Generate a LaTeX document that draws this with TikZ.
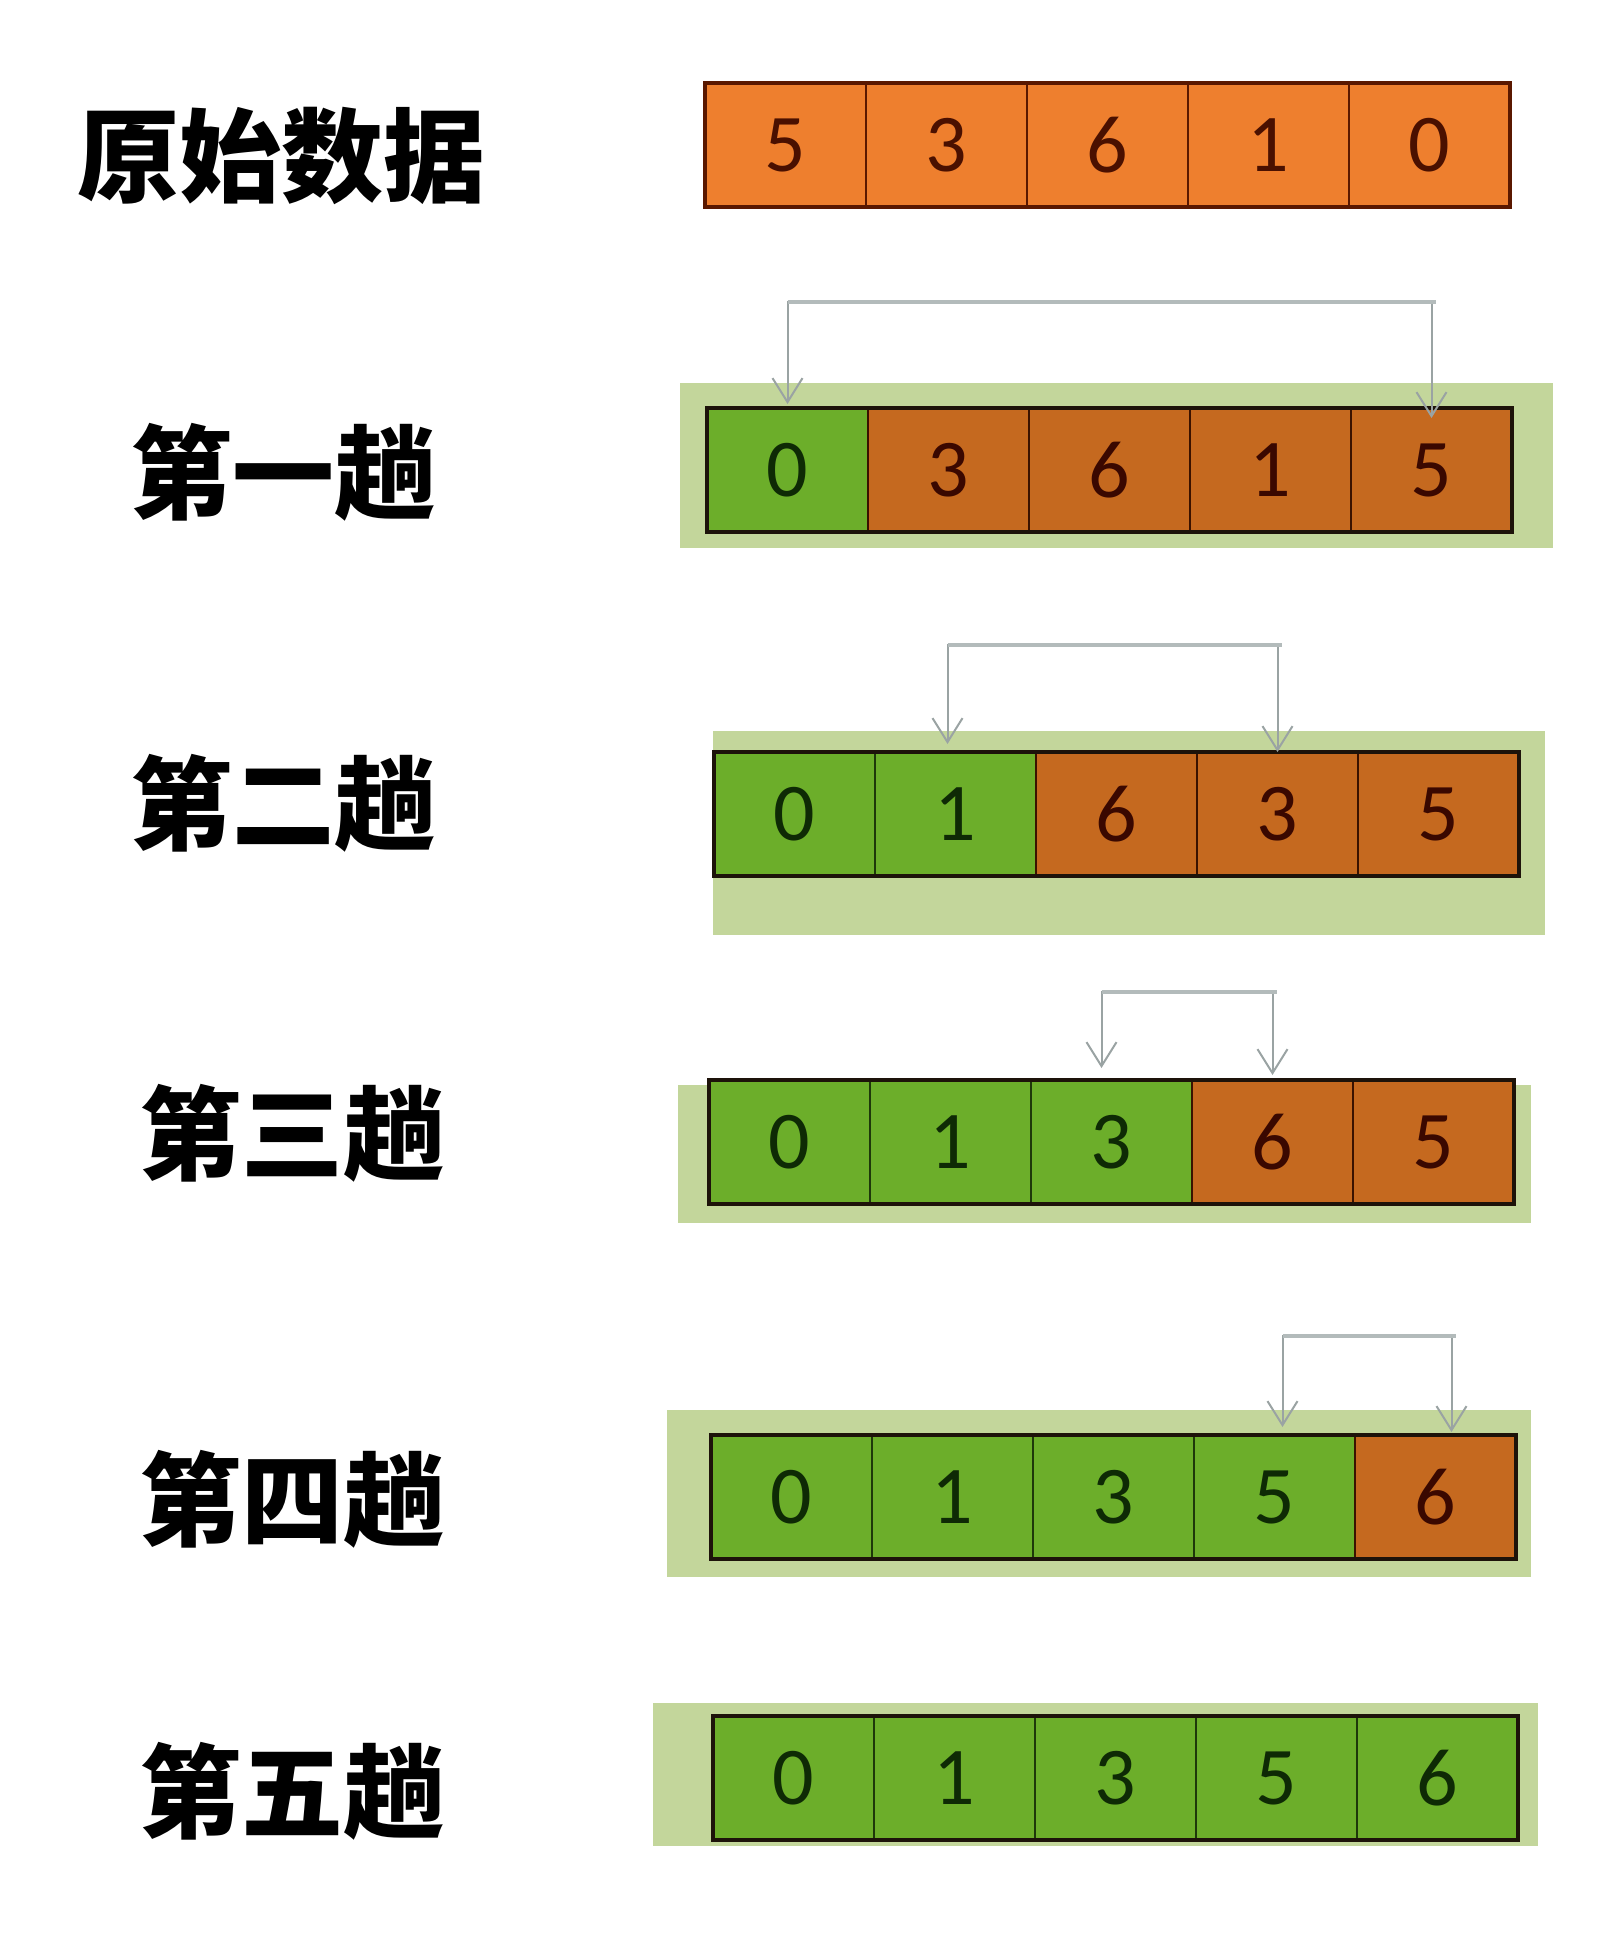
\documentclass[tikz,border=0pt]{standalone}
\usepackage{fontspec}
\newfontfamily\cjk{Noto Sans CJK SC}
\newfontfamily\digitfont{Carlito}
\usetikzlibrary{arrows.meta}
\definecolor{orangeA}{HTML}{EE7F2E}
\definecolor{orangeB}{HTML}{C5691F}
\definecolor{greenC}{HTML}{6CAE2A}
\definecolor{panelG}{HTML}{C3D69B}
\definecolor{borderA}{HTML}{5A1800}
\definecolor{borderO}{HTML}{3A1200}
\definecolor{borderG}{HTML}{1E380A}
\definecolor{txtA}{HTML}{4A1000}
\definecolor{txtO}{HTML}{3A0800}
\definecolor{txtG}{HTML}{0E2A05}
\definecolor{arrowC}{HTML}{9AA3A3}
\definecolor{barC}{HTML}{B3BBBB}
\newcommand\mkcellrow[5]{%
  \foreach \v [count=\i] in {#5} {%
    \ifnum\i>#4\relax
      \node[cellO] (r#1c\i) at ({#2+80.5+161*(\i-1)},#3) {\v};
    \else
      \node[cellG] (r#1c\i) at ({#2+80.5+161*(\i-1)},#3) {\v};
    \fi}}
\begin{document}
\begin{tikzpicture}[x=0.5pt,y=-0.5pt,
  cellbase/.style={draw, line width=1pt, minimum width=80.5pt, minimum height=62pt,
    inner sep=0pt, outer sep=0pt, font=\digitfont\fontsize{41}{41}\selectfont},
  cellA/.style={cellbase, fill=orangeA, draw=borderA, text=txtA},
  cellO/.style={cellbase, fill=orangeB, draw=borderO, text=txtO},
  cellG/.style={cellbase, fill=greenC, draw=borderG, text=txtG},
  rowframe/.style={draw=black!85!brown, line width=1.8pt},
  panel/.style={fill=panelG},
  lbl/.style={font=\cjk\bfseries\fontsize{51}{51}\selectfont, inner sep=0pt},
  swap/.style={draw=arrowC, line width=1pt,
    {Straight Barb[length=12pt,width=15pt,line width=1pt]}-{Straight Barb[length=12pt,width=15pt,line width=1pt]}},
  bar/.style={draw=barC, line width=2pt}]
\fill[white] (0,0) rectangle (1614,1954);
\useasboundingbox (0,0) rectangle (1614,1954);

% labels
\node[lbl] (lab0) at (281,156) {原始数据};
\node[lbl] (lab1) at (283,472) {第一趟};
\node[lbl] (lab2) at (283,803) {第二趟};
\node[lbl] (lab3) at (292,1133) {第三趟};
\node[lbl] (lab4) at (292,1499) {第四趟};
\node[lbl] (lab5) at (292,1791) {第五趟};

% panels
\fill[panel] (680,383) rectangle (1553,548);
\fill[panel] (713,731) rectangle (1545,935);
\fill[panel] (678,1085) rectangle (1531,1223);
\fill[panel] (667,1410) rectangle (1531,1577);
\fill[panel] (653,1703) rectangle (1538,1846);

% row 0
\foreach \v [count=\i] in {5,3,6,1,0} {
  \node[cellA] (r0c\i) at ({705+80.5+161*(\i-1)},145) {\v};}
% rows 1-5
\mkcellrow{1}{707}{470}{1}{0,3,6,1,5}
\mkcellrow{2}{714}{814}{2}{0,1,6,3,5}
\mkcellrow{3}{709}{1142}{3}{0,1,3,6,5}
\mkcellrow{4}{711}{1497}{4}{0,1,3,5,6}
\mkcellrow{5}{713}{1778}{5}{0,1,3,5,6}

% row frames (heavier outline)
\draw[rowframe, draw=borderA] (r0c1.north west) rectangle (r0c5.south east);
\foreach \r in {1,...,5} {
  \draw[rowframe] (r\r c1.north west) rectangle (r\r c5.south east);}

% swap arrows
\coordinate (h1) at (1000,302);
\coordinate (h2) at (1100,645);
\coordinate (h3) at (1180,992);
\coordinate (h4) at (1360,1336);
\draw[swap] ([yshift=2pt]r1c1.north) |- (h1) -| ([yshift=-5pt]r1c5.north);
\draw[swap] ([xshift=-4pt,yshift=4pt]r2c2.north) |- (h2) -| (r2c4.north);
\draw[swap] ([xshift=-5pt,yshift=6pt]r3c3.north) |- (h3) -| ([yshift=2.5pt]r3c4.north);
\draw[swap] ([xshift=4pt,yshift=4pt]r4c4.north) |- (h4) -| ([xshift=8pt,yshift=1.5pt]r4c5.north);
\draw[bar] (r1c1.north |- h1) -- ([xshift=2pt]r1c5.north |- h1);
\draw[bar] ([xshift=-4pt]r2c2.north |- h2) -- ([xshift=2pt]r2c4.north |- h2);
\draw[bar] ([xshift=-5pt]r3c3.north |- h3) -- ([xshift=2pt]r3c4.north |- h3);
\draw[bar] ([xshift=4pt]r4c4.north |- h4) -- ([xshift=10pt]r4c5.north |- h4);
\end{tikzpicture}
\end{document}
